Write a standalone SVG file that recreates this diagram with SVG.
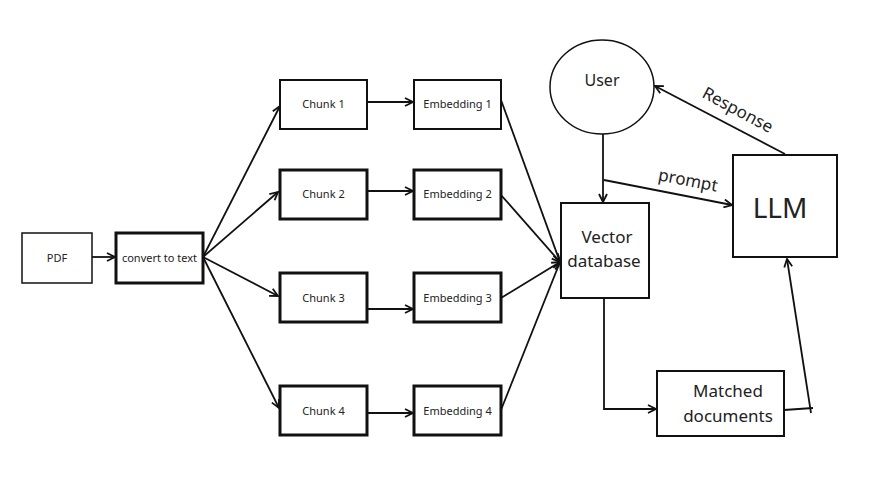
<svg xmlns="http://www.w3.org/2000/svg" width="889" height="499" viewBox="0 0 889 499">
<defs>
<marker id="arr" viewBox="0 0 10 10" refX="9" refY="5" markerWidth="10" markerHeight="10" markerUnits="userSpaceOnUse" orient="auto">
<path d="M1,1 L9,5 L1,9" fill="none" stroke="#111" stroke-width="1.8"/>
</marker>
<style>
.box{fill:#fff;stroke:#111}
.thin{stroke-width:1.5}
.mid{stroke-width:2}
.thick{stroke-width:3}
.sm{font-family:"Noto Sans",sans-serif;font-size:11px;fill:#222;text-anchor:middle}
.lg{font-family:"Noto Sans",sans-serif;font-size:17px;fill:#222;text-anchor:middle}
.md{font-size:16px}
.xl{font-size:28px}
.ln{fill:none;stroke:#111;stroke-width:1.8}
</style>
</defs>
<rect width="889" height="499" fill="#fff"/>
<g id="connectors">
<line class="ln" x1="92" y1="257" x2="115" y2="257" marker-end="url(#arr)"/>
<line class="ln" x1="203" y1="257" x2="280" y2="106" marker-end="url(#arr)"/>
<line class="ln" x1="203" y1="257" x2="278" y2="192" marker-end="url(#arr)"/>
<line class="ln" x1="203" y1="257" x2="278" y2="296" marker-end="url(#arr)"/>
<line class="ln" x1="203" y1="257" x2="279" y2="408" marker-end="url(#arr)"/>
<line class="ln" x1="367" y1="102" x2="413" y2="102" marker-end="url(#arr)"/>
<line class="ln" x1="367" y1="191" x2="413" y2="191" marker-end="url(#arr)"/>
<line class="ln" x1="367" y1="309" x2="413" y2="309" marker-end="url(#arr)"/>
<line class="ln" x1="367" y1="413" x2="413" y2="413" marker-end="url(#arr)"/>
<line class="ln" x1="501" y1="100" x2="560" y2="262" marker-end="url(#arr)"/>
<line class="ln" x1="501" y1="195" x2="560" y2="262" marker-end="url(#arr)"/>
<line class="ln" x1="501" y1="298" x2="560" y2="262" marker-end="url(#arr)"/>
<line class="ln" x1="501" y1="410" x2="560" y2="262" marker-end="url(#arr)"/>
<line class="ln" x1="603" y1="134" x2="603" y2="202" marker-end="url(#arr)"/>
<line class="ln" x1="604" y1="180" x2="732" y2="205" marker-end="url(#arr)"/>
<line class="ln" x1="785" y1="154" x2="655" y2="86" marker-end="url(#arr)"/>
<polyline class="ln" points="604,298 604,409 656,409" marker-end="url(#arr)"/>
<line class="ln" x1="784" y1="410" x2="813" y2="408"/>
<line class="ln" x1="811" y1="413" x2="787" y2="259" marker-end="url(#arr)"/>
<text class="lg" transform="translate(687,186) rotate(11)">prompt</text>
<text class="lg" transform="translate(735,115) rotate(28)">Response</text>
</g>
<g id="pdf"><rect class="box thin" x="22" y="233" width="70" height="50"/><text class="sm" x="57" y="262">PDF</text></g>
<g id="convert"><rect class="box thick" x="116" y="233" width="87" height="50"/><text class="sm" x="159.5" y="262">convert to text</text></g>
<g id="chunk1"><rect class="box mid" x="280" y="80" width="87" height="49"/><text class="sm" x="323.5" y="108">Chunk 1</text></g>
<g id="chunk2"><rect class="box thick" x="280" y="170" width="87" height="49"/><text class="sm" x="323.5" y="198">Chunk 2</text></g>
<g id="chunk3"><rect class="box thick" x="280" y="273" width="87" height="49"/><text class="sm" x="323.5" y="302">Chunk 3</text></g>
<g id="chunk4"><rect class="box thick" x="280" y="386" width="87" height="49"/><text class="sm" x="323.5" y="415">Chunk 4</text></g>
<g id="emb1"><rect class="box mid" x="414" y="80" width="87" height="49"/><text class="sm" x="457.5" y="108">Embedding 1</text></g>
<g id="emb2"><rect class="box thick" x="414" y="170" width="87" height="49"/><text class="sm" x="457.5" y="198">Embedding 2</text></g>
<g id="emb3"><rect class="box thick" x="414" y="273" width="87" height="49"/><text class="sm" x="457.5" y="302">Embedding 3</text></g>
<g id="emb4"><rect class="box thick" x="414" y="386" width="87" height="49"/><text class="sm" x="457.5" y="415">Embedding 4</text></g>
<g id="user"><ellipse cx="602" cy="87" rx="52" ry="47" fill="#fff" stroke="#111" stroke-width="1.5"/><text class="lg md" x="602" y="86">User</text></g>
<g id="vector"><rect class="box mid" x="561" y="203" width="88" height="95"/><text class="lg" x="607" y="243">Vector</text><text class="lg" x="604" y="267">database</text></g>
<g id="llm"><rect class="box mid" x="733" y="155" width="104" height="102"/><text class="lg xl" x="780" y="218">LLM</text></g>
<g id="matched"><rect class="box mid" x="657" y="371" width="127" height="65"/><text class="lg" x="728" y="397">Matched</text><text class="lg" x="728" y="422">documents</text></g>
</svg>
